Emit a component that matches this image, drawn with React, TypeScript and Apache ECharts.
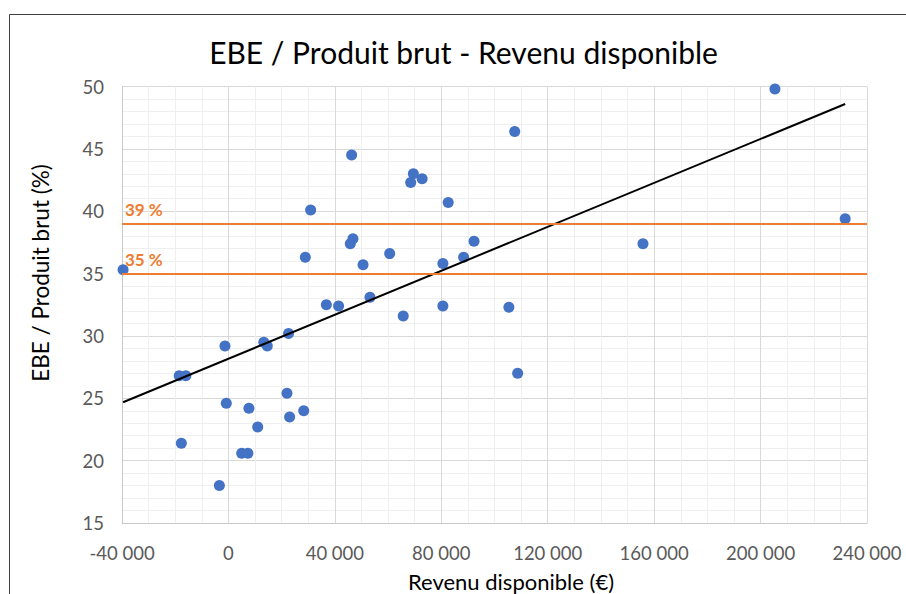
import React, { useEffect, useRef } from "react";
import * as echarts from "echarts";

// Revenu disponible (€) of each farm
const revenu = [
  -39600, -18500, -16000, -17700, -3400, -1300, -800, 5000, 7300, 7700, 11000,
  13300, 14600, 22600, 22000, 23000, 28300, 28900, 30900, 36800, 41400, 46300,
  45800, 46800, 50600, 53200, 60600, 65700, 68500, 69500, 72800, 82600, 80600,
  80600, 88400, 92300, 107600, 105400, 108700, 155800, 205400, 231800,
];
// EBE / Produit brut (%) of each farm
const ebe = [
  35.3, 26.8, 26.8, 21.4, 18.0, 29.2, 24.6, 20.6, 20.6, 24.2, 22.7, 29.5, 29.2,
  30.2, 25.4, 23.5, 24.0, 36.3, 40.1, 32.5, 32.4, 44.5, 37.4, 37.8, 35.7, 33.1,
  36.6, 31.6, 42.3, 43.0, 42.6, 40.7, 35.8, 32.4, 36.3, 37.6, 46.4, 32.3, 27.0,
  37.4, 49.8, 39.4,
];
// Linear trend line end points
const trendX = [-39600, 231800];
const trendY = [24.68, 48.6];
// Threshold lines
const seuils = [39, 35];
const seuilLabels = ["39 %", "35 %"];

const title = "EBE / Produit brut - Revenu disponible";
const xTitle = "Revenu disponible (€)";
const yTitle = "EBE / Produit brut (%)";

const FONT = "Lato";

function fmt(v: number): string {
  const s = Math.abs(v).toString().replace(/\B(?=(\d{3})+(?!\d))/g, " ");
  return (v < 0 ? "-" : "") + s;
}

export default function App() {
  const ref = useRef<HTMLDivElement>(null);
  useEffect(() => {
    if (!ref.current) return;
    const chart = echarts.init(ref.current, undefined, { renderer: "svg" });
    const points = revenu.map((x, i) => [x, ebe[i]]);
    const trend = trendX.map((x, i) => [x, trendY[i]]);
    chart.setOption({
      animation: false,
      backgroundColor: "#ffffff",
      textStyle: { fontFamily: FONT },
      grid: { left: 122, top: 86.5, right: 39, bottom: 71, containLabel: false },
      xAxis: {
        type: "value",
        min: -40000,
        max: 240000,
        interval: 40000,
        minorTick: { show: false, splitNumber: 4 },
        minorSplitLine: { show: true, lineStyle: { color: "#EFEFEF", width: 1 } },
        splitLine: { show: true, lineStyle: { color: "#D9D9D9", width: 1 } },
        axisLine: { show: true, onZero: false, lineStyle: { color: "#C8C8C8", width: 1 } },
        axisTick: { show: false },
        axisLabel: {
          color: "#595959",
          fontFamily: FONT,
          fontSize: 18.5,
          lineHeight: 18,
          margin: 21,
          formatter: (v: number) => fmt(v),
        },
      },
      yAxis: {
        type: "value",
        min: 15,
        max: 50,
        interval: 5,
        minorTick: { show: false, splitNumber: 5 },
        minorSplitLine: { show: true, lineStyle: { color: "#EFEFEF", width: 1 } },
        splitLine: { show: true, lineStyle: { color: "#D9D9D9", width: 1 } },
        axisLine: { show: true, onZero: false, lineStyle: { color: "#C8C8C8", width: 1 } },
        axisTick: { show: false },
        axisLabel: {
          color: "#595959",
          fontFamily: FONT,
          fontSize: 18.5,
          margin: 18,
        },
      },
      series: [
        {
          type: "line",
          data: [],
          silent: true,
          markLine: {
            silent: true,
            symbol: ["none", "none"],
            lineStyle: { color: "#ED7D31", width: 2, type: "solid" },
            label: {
              show: true,
              position: "insideStartTop",
              color: "#ED7D31",
              fontFamily: FONT,
              fontWeight: "bold",
              fontSize: 17,
              distance: [3, 6],
              formatter: (p: any) => seuilLabels[p.dataIndex],
            },
            data: seuils.map((s) => ({ yAxis: s })),
          },
          z: 1,
        },
        {
          type: "scatter",
          data: points,
          symbol: "circle",
          symbolSize: 11,
          itemStyle: { color: "#4472C4", opacity: 1 },
          z: 2,
        },
        {
          type: "line",
          data: trend,
          showSymbol: false,
          symbol: "none",
          lineStyle: { color: "#000000", width: 2 },
          z: 3,
        },
      ],
      graphic: [
        {
          type: "rect",
          silent: true,
          shape: { x: 9.5, y: 14.5, width: 1000, height: 1000 },
          style: { fill: "none", stroke: "#404040", lineWidth: 1 },
          z: 0,
        },
        {
          type: "text",
          x: 463.5,
          y: 52,
          style: {
            text: title,
            fill: "#000000",
            font: `30px ${FONT}`,
            textAlign: "center",
            textVerticalAlign: "middle",
          },
        },
        {
          type: "text",
          x: 511,
          y: 581,
          style: {
            text: xTitle,
            fill: "#000000",
            font: `22px ${FONT}`,
            textAlign: "center",
            textVerticalAlign: "middle",
          },
        },
        {
          type: "text",
          x: 40,
          y: 273,
          rotation: Math.PI / 2,
          style: {
            text: yTitle,
            fill: "#000000",
            font: `22.5px ${FONT}`,
            textAlign: "center",
            textVerticalAlign: "middle",
          },
        },
      ],
    });
    return () => chart.dispose();
  }, []);
  return (
    <div
      ref={ref}
      style={{ position: "absolute", left: 0, top: 0, width: 906, height: 594, background: "#fff" }}
    />
  );
}
